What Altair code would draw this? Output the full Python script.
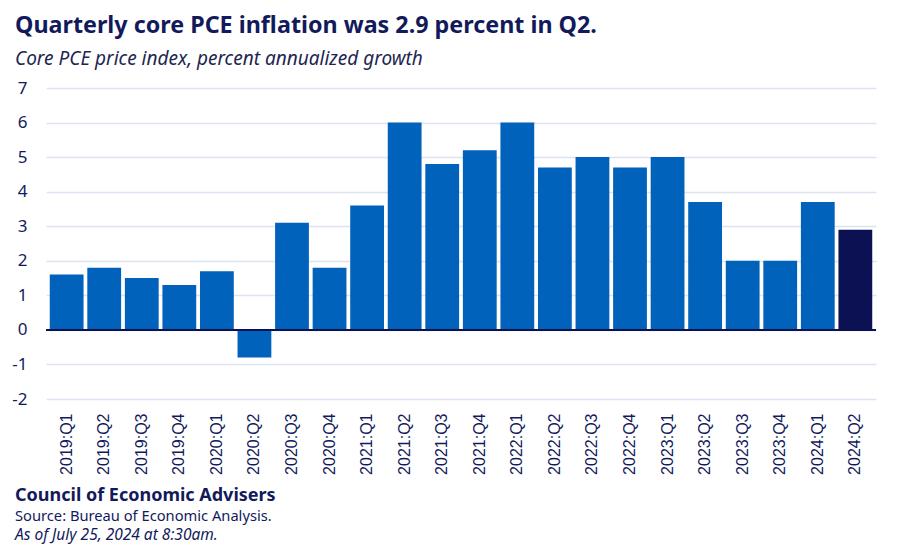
import altair as alt
import pandas as pd

quarters = ["2019:Q1", "2019:Q2", "2019:Q3", "2019:Q4",
            "2020:Q1", "2020:Q2", "2020:Q3", "2020:Q4",
            "2021:Q1", "2021:Q2", "2021:Q3", "2021:Q4",
            "2022:Q1", "2022:Q2", "2022:Q3", "2022:Q4",
            "2023:Q1", "2023:Q2", "2023:Q3", "2023:Q4",
            "2024:Q1", "2024:Q2"]
values = [1.6, 1.8, 1.5, 1.3,
          1.7, -0.8, 3.1, 1.8,
          3.6, 6.0, 4.8, 5.2,
          6.0, 4.7, 5.0, 4.7,
          5.0, 3.7, 2.0, 2.0,
          3.7, 2.9]
y_ticks = [-2, -1, 0, 1, 2, 3, 4, 5, 6, 7]

title_text = "Quarterly core PCE inflation was 2.9 percent in Q2."
subtitle_text = "Core PCE price index, percent annualized growth"
footer_org = "Council of Economic Advisers"
footer_source = "Source: Bureau of Economic Analysis."
footer_date = "As of July 25, 2024 at 8:30am."

NAVY = "#121a5c"
BAR = "#0062bb"
HIGHLIGHT = "#0b1153"
FONT = "Noto Sans"

df = pd.DataFrame({"quarter": quarters, "value": values})

W, H = 830, 311

yscale = alt.Scale(domain=[-2, 7], nice=False, zero=False)
yaxis = alt.Axis(title=None, values=y_ticks, tickCount=10, labelFont=FONT,
                 labelFontSize=17, labelColor=NAVY, ticks=False, domain=False,
                 labelPadding=19, labelOverlap=False,
                 labelExpr="'' + datum.value",
                 gridColor="#dde3f0", gridWidth=1.5)

bars = alt.Chart(df).mark_bar().encode(
    x=alt.X("quarter:N", sort=None,
            scale=alt.Scale(paddingInner=0.1, paddingOuter=0.1),
            axis=alt.Axis(title=None, labelAngle=-90, labelFont="Liberation Sans",
                          labelFontSize=16, labelColor=NAVY, ticks=False, domain=False,
                          labelPadding=14, labelBaseline="middle", grid=False)),
    y=alt.Y("value:Q", scale=yscale, axis=yaxis),
    color=alt.condition(alt.datum.quarter == "2024:Q2", alt.value(HIGHLIGHT), alt.value(BAR)),
)

zero = alt.Chart(pd.DataFrame({"value": [0]})).mark_rule(color=HIGHLIGHT, strokeWidth=2).encode(
    y=alt.Y("value:Q", scale=yscale, axis=yaxis))


def txt(text, x, y, size, weight="normal", style="normal", color=NAVY):
    return alt.Chart(alt.Data(values=[{}])).mark_text(
        text=text, align="left", baseline="alphabetic", font=FONT, fontSize=size,
        fontWeight=weight, fontStyle=style, color=color
    ).encode(x=alt.value(x), y=alt.value(y))


title = txt(title_text, -31, -55, 23.3, weight="bold")
subtitle = txt(subtitle_text, -31, -23, 19, style="italic", color="#1e2550")
org = txt(footer_org, -31, 413, 18, weight="bold")
source = txt(footer_source, -31, 433, 14.7)
date = txt(footer_date, -31, 452, 15.5, style="italic")

chart = alt.layer(bars, zero, title, subtitle, org, source, date).properties(
    width=W, height=H,
    autosize=alt.AutoSizeParams(type="none"),
    padding={"left": 38, "top": 80, "right": 16, "bottom": 148},
    background="white",
).configure_view(strokeWidth=0)

chart.save("out.html", embed_options={"renderer": "svg", "actions": False})
